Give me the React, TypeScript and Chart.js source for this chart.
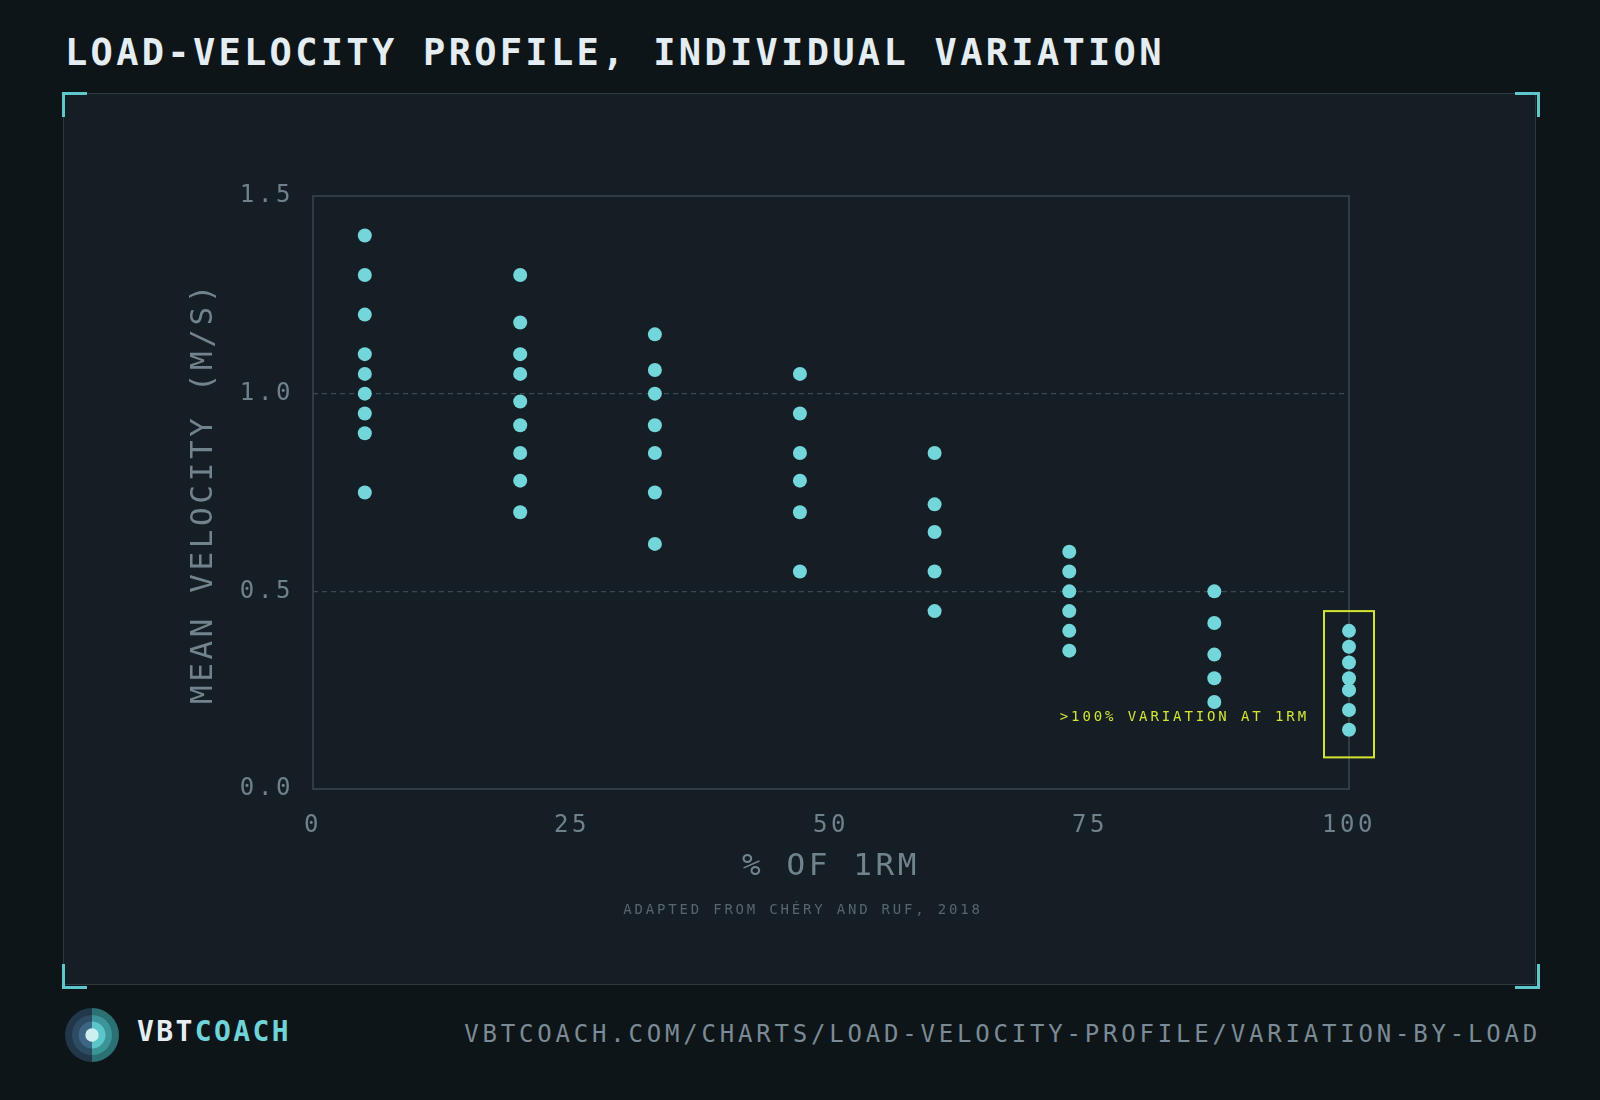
import React, { useEffect, useRef } from "react";
import { Chart, registerables } from "chart.js";

Chart.register(...registerables);

// ---- data ----
const loadPercent = [5, 20, 33, 47, 60, 73, 87, 100];
const vel5 = [1.4, 1.3, 1.2, 1.1, 1.05, 1.0, 0.95, 0.9, 0.75];
const vel20 = [1.3, 1.18, 1.1, 1.05, 0.98, 0.92, 0.85, 0.78, 0.7];
const vel33 = [1.15, 1.06, 1.0, 0.92, 0.85, 0.75, 0.62];
const vel47 = [1.05, 0.95, 0.85, 0.78, 0.7, 0.55];
const vel60 = [0.85, 0.72, 0.65, 0.55, 0.45];
const vel73 = [0.6, 0.55, 0.5, 0.45, 0.4, 0.35];
const vel87 = [0.5, 0.42, 0.34, 0.28, 0.22];
const vel100 = [0.4, 0.36, 0.32, 0.28, 0.25, 0.2, 0.15];
const velocityGroups = [vel5, vel20, vel33, vel47, vel60, vel73, vel87, vel100];

const xTickValues = [0, 25, 50, 75, 100];
const yTickValues = [0, 0.5, 1.0, 1.5];
const dashedGridValues = [0.5, 1.0];

const highlightLoad = 100;
const highlightVelRange = [0.08, 0.45];
const highlightLabelVel = 0.18;
const highlightLabel = ">100% VARIATION AT 1RM";

const MONO = '"DejaVu Sans Mono", "Liberation Mono", monospace';

export default function App() {
  const canvasRef = useRef<HTMLCanvasElement | null>(null);

  useEffect(() => {
    document.body.style.margin = "0";
    const canvas = canvasRef.current;
    if (!canvas) return;

    const points: { x: number; y: number }[] = [];
    loadPercent.forEach((x, i) => {
      velocityGroups[i].forEach((y) => points.push({ x, y }));
    });

    const spacingPlugin = {
      id: "spacing",
      beforeUpdate(chart: any) {
        chart.ctx.letterSpacing = "3.6px";
      },
      beforeDraw(chart: any) {
        chart.ctx.letterSpacing = "3.6px";
      },
    };

    const framePlugin = {
      id: "frame",
      beforeDatasetsDraw(chart: any) {
        const { ctx, chartArea } = chart;
        ctx.save();
        ctx.strokeStyle = "#3a474e";
        ctx.lineWidth = 1.5;
        ctx.strokeRect(chartArea.left, chartArea.top, chartArea.right - chartArea.left, chartArea.bottom - chartArea.top);
        ctx.restore();
      },
      afterDatasetsDraw(chart: any) {
        const { ctx } = chart;
        const xs = chart.scales.x;
        const ys = chart.scales.y;
        const cx = xs.getPixelForValue(highlightLoad);
        const top = ys.getPixelForValue(highlightVelRange[1]);
        const bottom = ys.getPixelForValue(highlightVelRange[0]);
        ctx.save();
        ctx.strokeStyle = "#d3e433";
        ctx.lineWidth = 2;
        ctx.strokeRect(cx - 25, top, 50, bottom - top);
        ctx.letterSpacing = "2.9px";
        ctx.font = `14px ${MONO}`;
        ctx.fillStyle = "#d3e433";
        ctx.textAlign = "right";
        ctx.textBaseline = "middle";
        ctx.fillText(highlightLabel, cx - 40, ys.getPixelForValue(highlightLabelVel));
        ctx.restore();
      },
    };

    const chart = new Chart(canvas, {
      type: "scatter",
      data: {
        datasets: [
          {
            data: points,
            backgroundColor: "#72d6da",
            borderWidth: 0,
            pointRadius: 7,
            pointHoverRadius: 7,
            clip: false,
          } as any,
        ],
      },
      options: {
        animation: false,
        responsive: false,
        devicePixelRatio: 1,
        layout: { padding: { left: 0, top: 103, right: 187, bottom: 0 } },
        plugins: { legend: { display: false }, tooltip: { enabled: false } },
        scales: {
          x: {
            type: "linear",
            min: 0,
            max: 100,
            afterBuildTicks: (s: any) => {
              s.ticks = xTickValues.map((v) => ({ value: v }));
            },
            afterFit: (s: any) => {
              s.height = 196;
            },
            grid: { display: false, drawTicks: false },
            border: { display: false },
            ticks: {
              color: "#6f818b",
              font: { family: MONO, size: 24 },
              padding: 22,
              maxRotation: 0,
            },
            title: {
              display: true,
              text: "% OF 1RM",
              color: "#71838d",
              font: { family: MONO, size: 31, lineHeight: 1 },
              padding: { top: 0, bottom: 103 },
            },
          },
          y: {
            type: "linear",
            min: 0,
            max: 1.5,
            afterBuildTicks: (s: any) => {
              s.ticks = yTickValues.map((v) => ({ value: v }));
            },
            afterFit: (s: any) => {
              s.width = 250;
            },
            grid: {
              drawTicks: false,
              lineWidth: 1.2,
              color: (c: any) =>
                c.tick && dashedGridValues.includes(c.tick.value) ? "#3a494f" : "rgba(0,0,0,0)",
            },
            border: { display: false, dash: [5, 4] },
            ticks: {
              color: "#6f818b",
              font: { family: MONO, size: 24 },
              padding: 19,
              callback: (v: any) => Number(v).toFixed(1),
            },
            title: {
              display: true,
              text: "MEAN VELOCITY (M/S)",
              color: "#71838d",
              font: { family: MONO, size: 31, lineHeight: 1 },
              padding: { top: 125, bottom: 0 },
            },
          },
        },
      },
      plugins: [spacingPlugin, framePlugin],
    });

    return () => chart.destroy();
  }, []);

  const corner = (pos: React.CSSProperties, borders: React.CSSProperties) => (
    <div style={{ position: "absolute", width: 22, height: 22, ...pos, ...borders }} />
  );
  const cb = "3px solid #5ec7cc";

  return (
    <div
      style={{
        position: "relative",
        width: 1600,
        height: 1100,
        background: "#0e1519",
        overflow: "hidden",
        fontFamily: MONO,
      }}
    >
      <div
        style={{
          position: "absolute",
          left: 65,
          top: 34,
          fontSize: 37,
          lineHeight: "38px",
          fontWeight: 700,
          letterSpacing: 3.3,
          color: "#e4edf1",
          whiteSpace: "nowrap",
        }}
      >
        LOAD-VELOCITY PROFILE, INDIVIDUAL VARIATION
      </div>

      <div
        style={{
          position: "absolute",
          left: 63,
          top: 93,
          width: 1473,
          height: 892,
          boxSizing: "border-box",
          border: "1.5px solid #2d3a41",
          background: "#161e25",
        }}
      />
      <canvas
        ref={canvasRef}
        width={1473}
        height={892}
        style={{ position: "absolute", left: 63, top: 93, width: 1473, height: 892 }}
      />
      {corner({ left: 62, top: 92 }, { borderLeft: cb, borderTop: cb })}
      {corner({ left: 1515, top: 92 }, { borderRight: cb, borderTop: cb })}
      {corner({ left: 62, top: 964 }, { borderLeft: cb, borderBottom: cb })}
      {corner({ left: 1515, top: 964 }, { borderRight: cb, borderBottom: cb })}

      <div
        style={{
          position: "absolute",
          left: 0,
          width: 1600,
          top: 900,
          textAlign: "center",
          fontSize: 14,
          lineHeight: "18px",
          letterSpacing: 2.8,
          color: "#56656e",
          paddingLeft: 3,
        }}
      >
        ADAPTED FROM CHÉRY AND RUF, 2018
      </div>

      <svg
        style={{ position: "absolute", left: 65, top: 1008 }}
        width={54}
        height={54}
        viewBox="0 0 54 54"
      >
        <path d="M27 0 A27 27 0 0 0 27 54 Z" fill="#22384a" />
        <path d="M27 0 A27 27 0 0 1 27 54 Z" fill="#2b7174" />
        <path d="M27 7 A20 20 0 0 0 27 47 Z" fill="#2d4b63" />
        <path d="M27 7 A20 20 0 0 1 27 47 Z" fill="#3b9598" />
        <path d="M27 13.5 A13.5 13.5 0 0 0 27 40.5 Z" fill="#3d6584" />
        <path d="M27 13.5 A13.5 13.5 0 0 1 27 40.5 Z" fill="#5cc5c8" />
        <circle cx={27} cy={27} r={6.7} fill="#cdeff0" />
      </svg>
      <div
        style={{
          position: "absolute",
          left: 137,
          top: 1015,
          fontSize: 28,
          lineHeight: "34px",
          fontWeight: 700,
          letterSpacing: 2.4,
          whiteSpace: "nowrap",
        }}
      >
        <span style={{ color: "#e6eef2" }}>VBT</span>
        <span style={{ color: "#6fd3d7" }}>COACH</span>
      </div>
      <div
        style={{
          position: "absolute",
          right: 59,
          top: 1019,
          fontSize: 24,
          lineHeight: "30px",
          letterSpacing: 3.8,
          color: "#7b8b95",
          whiteSpace: "nowrap",
        }}
      >
        VBTCOACH.COM/CHARTS/LOAD-VELOCITY-PROFILE/VARIATION-BY-LOAD
      </div>
    </div>
  );
}
